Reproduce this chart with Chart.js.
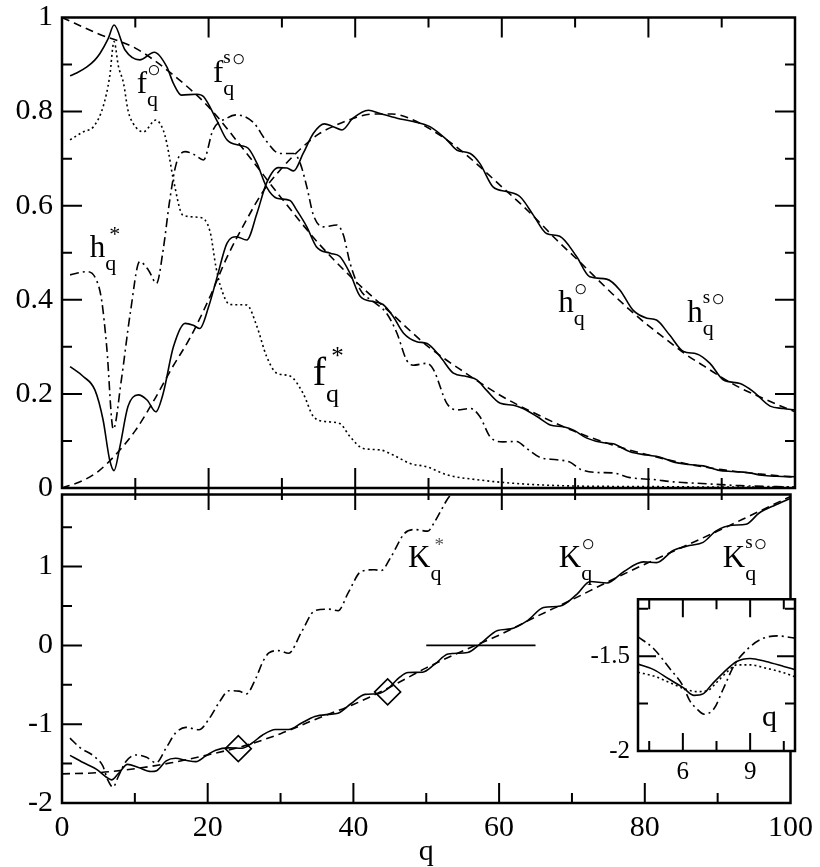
<!DOCTYPE html>
<html>
<head>
<meta charset="utf-8">
<script src="https://cdn.jsdelivr.net/npm/chart.js@4.4.1/dist/chart.umd.min.js"></script>
<style>
  body { margin: 0; background: #fff; }
  #wrap { position: relative; width: 820px; height: 867px; }
  #wrap canvas { position: absolute; }
</style>
</head>
<body>
<div id="wrap">
  <canvas id="topPanel" width="820" height="510" style="left:0;top:0"></canvas>
  <canvas id="bottomPanel" width="820" height="389" style="left:0;top:478px"></canvas>
  <canvas id="insetPanel" width="215" height="200" style="left:585px;top:585px"></canvas>
</div>
<script>
// tick labels
const qTicks = [0, 20, 40, 60, 80, 100];
const topTicks = [0, 0.2, 0.4, 0.6, 0.8, 1];
const bottomTicks = [-2, -1, 0, 1];
const insetQTicks = [6, 9];
const insetKTicks = [-2, -1.5];

// upper panel: f and h functions, [q, value]
const fCircle = [[1.1,0.876],[2,0.882],[3.4,0.895],[4.5,0.91],[5.2,0.924],[6.3,0.955],[7.1,0.984],[8.6,0.931],[10.6,0.910],
  [12.6,0.926],[14.3,0.895],[15.2,0.860],[16.3,0.835],[18.4,0.837],[19.3,0.832],[21.1,0.782],[22.5,0.74],[24.3,0.728],
  [25.4,0.722],[26.6,0.69],[27.9,0.64],[29.3,0.616],[31.1,0.611],[32.0,0.591],[33.4,0.555],[34.7,0.513],[36.6,0.499],
  [37.9,0.492],[39.3,0.456],[40.7,0.407],[42.5,0.396],[43.8,0.390],[45.2,0.364],[46.6,0.329],[48.4,0.311],[49.8,0.307],
  [51.6,0.279],[53.4,0.244],[55.2,0.237],[56.6,0.230],[57.9,0.208],[59.8,0.180],[61.6,0.176],[62.9,0.169],[64.8,0.152],
  [66.6,0.134],[68.4,0.130],[69.8,0.123],[71.6,0.106],[73.9,0.096],[75.2,0.094],[77.5,0.077],[79.8,0.070],[81.5,0.066],
  [83.5,0.055],[85.5,0.050],[87.5,0.047],[89.5,0.038],[91.5,0.035],[93.5,0.033],[95.5,0.027],[97.5,0.025],[100,0.024]];
const fSo = [[0,1.0],[5,0.965],[10,0.935],[15,0.88],[20,0.81],[25,0.715],[30,0.615],[35,0.52],[40,0.44],[45,0.37],
  [50,0.30],[55,0.245],[60,0.195],[65,0.155],[70,0.12],[75,0.092],[80,0.07],[85,0.052],[90,0.039],[95,0.03],[100,0.023]];
const fStar = [[1.1,0.74],[2.9,0.757],[4.3,0.768],[5.6,0.81],[6.5,0.874],[7.1,0.949],[7.7,0.896],[8.4,0.86],[9.0,0.803],
  [9.7,0.775],[11.1,0.757],[12.8,0.782],[13.8,0.761],[14.3,0.733],[15.2,0.655],[16.5,0.58],[18.8,0.575],[20.2,0.545],
  [21.0,0.47],[21.6,0.43],[22.9,0.39],[25.2,0.389],[26.6,0.343],[27.9,0.28],[29.3,0.244],[31.1,0.238],[32.9,0.201],
  [34.3,0.152],[36.1,0.141],[37.9,0.137],[39.3,0.109],[41.1,0.084],[43.4,0.081],[45.2,0.07],[47.5,0.052],[49.8,0.045],
  [52.5,0.028],[57,0.017],[61.6,0.010],[66.1,0.006],[70.7,0.004],[80,0.003],[90,0.002],[100,0.002]];
const hStar = [[1.1,0.453],[3.4,0.46],[4.7,0.442],[5.4,0.40],[6.1,0.30],[7.0,0.125],[8.1,0.23],[9.3,0.37],[10.6,0.481],
  [11.8,0.463],[12.9,0.435],[13.8,0.506],[14.7,0.612],[15.6,0.69],[16.8,0.715],[18.1,0.708],[19.3,0.697],[20.6,0.761],
  [22.5,0.786],[23.8,0.793],[26.1,0.777],[27.9,0.737],[29.7,0.711],[31.6,0.711],[32.5,0.69],[33.4,0.64],[34.3,0.58],
  [35.6,0.555],[37.5,0.559],[38.4,0.537],[39.3,0.478],[40.7,0.421],[42.5,0.396],[44.3,0.371],[45.7,0.329],[47.0,0.272],
  [47.9,0.261],[49.8,0.265],[50.7,0.251],[52.5,0.18],[53.9,0.166],[55.7,0.169],[57.0,0.152],[58.4,0.109],[60.2,0.098],
  [62.0,0.099],[63.4,0.084],[65.2,0.065],[67.5,0.06],[69.3,0.055],[70.7,0.04],[72.9,0.033],[75.2,0.032],[77.5,0.022],
  [80.7,0.018],[83.4,0.013],[87.9,0.009],[92.5,0.005],[100,0.002]];
const hCircle = [[1.1,0.258],[2.9,0.237],[4.5,0.208],[5.6,0.145],[6.5,0.06],[7.1,0.037],[7.9,0.088],[9.0,0.173],[10.4,0.198],
  [11.6,0.187],[12.8,0.162],[13.8,0.201],[15.2,0.30],[16.8,0.35],[17.9,0.346],[18.8,0.339],[20.0,0.385],[21.1,0.445],
  [22.5,0.52],[23.8,0.534],[25.2,0.527],[26.6,0.584],[27.9,0.648],[29.5,0.681],[30.7,0.68],[31.6,0.674],[32.9,0.711],
  [34.3,0.754],[35.8,0.774],[37.0,0.768],[38.2,0.761],[39.7,0.786],[41.8,0.803],[43.4,0.796],[45.7,0.786],[47.9,0.779],
  [50.2,0.768],[52.5,0.74],[53.9,0.718],[55.7,0.711],[57.0,0.69],[58.8,0.64],[60.7,0.63],[62.5,0.619],[64.3,0.58],
  [66.1,0.541],[67.9,0.535],[70.2,0.492],[72.0,0.449],[74.3,0.444],[76.1,0.421],[77.9,0.378],[79.8,0.361],[81.1,0.357],
  [82.9,0.325],[84.8,0.29],[86.6,0.285],[88.4,0.265],[90.2,0.23],[92.5,0.222],[94.3,0.205],[96.6,0.174],[98.4,0.169],[100,0.166]];
const hSo = [[0,0],[3,0.017],[5,0.036],[7.5,0.074],[10,0.122],[12.5,0.185],[15,0.255],[17.5,0.32],[20,0.40],[22.5,0.49],
  [25,0.565],[27.5,0.632],[30,0.68],[32.5,0.72],[35,0.752],[37.5,0.772],[40,0.787],[42.5,0.795],[45,0.795],[47.5,0.785],
  [50,0.765],[52.5,0.74],[55,0.71],[57.5,0.676],[60,0.64],[62.5,0.605],[65,0.567],[67.5,0.527],[70,0.49],[72.5,0.452],
  [75,0.414],[77.5,0.378],[80,0.345],[82.5,0.315],[85,0.285],[87.5,0.26],[90,0.235],[92.5,0.213],[95,0.195],[97.5,0.178],[100,0.162]];

// lower panel: K functions
const kStar = [[1.1,-1.176],[2.5,-1.30],[4.3,-1.40],[5.6,-1.53],[6.3,-1.71],[7.0,-1.80],[7.7,-1.67],[8.8,-1.47],[10.2,-1.39],
  [11.6,-1.42],[12.9,-1.49],[14.3,-1.30],[15.6,-1.11],[17.0,-1.04],[18.8,-1.07],[20.2,-0.93],[21.6,-0.72],[22.9,-0.575],
  [24.3,-0.58],[25.3,-0.615],[26.6,-0.42],[27.6,-0.20],[28.4,-0.096],[29.7,-0.066],[31.1,-0.10],[32.9,0.174],[34.7,0.44],
  [36.6,0.46],[37.9,0.44],[39.3,0.67],[41.1,0.94],[42.9,0.96],[43.8,0.95],[45.2,1.13],[47.0,1.42],[48.4,1.47],[50.2,1.45],
  [51.1,1.56],[52.9,1.855],[53.4,1.915]];
const kCircle = [[1.1,-1.395],[2.9,-1.487],[4.7,-1.57],[6.1,-1.673],[6.8,-1.706],[7.7,-1.631],[9.0,-1.51],[10.5,-1.55],
  [12.2,-1.60],[13.0,-1.59],[14.3,-1.466],[15.6,-1.433],[17.0,-1.458],[18.4,-1.475],[19.7,-1.404],[21.1,-1.33],[22.9,-1.30],
  [24.7,-1.305],[26.1,-1.238],[27.5,-1.14],[29.3,-1.068],[31.1,-1.068],[32.9,-0.985],[34.7,-0.903],[36.6,-0.875],
  [37.9,-0.861],[39.7,-0.737],[41.6,-0.621],[43.4,-0.613],[44.7,-0.551],[46.4,-0.40],[47.5,-0.344],[49.5,-0.34],
  [51.1,-0.245],[53.0,-0.11],[55.7,-0.09],[57.5,0.025],[59.8,0.19],[61.6,0.21],[63.9,0.315],[66.1,0.48],[68.4,0.50],
  [70.7,0.65],[72.5,0.811],[74.8,0.791],[77.1,0.935],[79.8,1.06],[81.6,1.05],[83.9,1.205],[86.1,1.267],[88.0,1.308],
  [89.8,1.453],[92.0,1.524],[93.9,1.537],[95.7,1.68],[98.0,1.785],[100,1.867]];
const kSo = [[0,-1.63],[5,-1.615],[10,-1.565],[15,-1.49],[20,-1.39],[25,-1.275],[30,-1.12],[35,-0.93],[40,-0.75],
  [45,-0.53],[50,-0.285],[55,-0.07],[60,0.13],[65,0.36],[70,0.58],[75,0.81],[80,1.03],[85,1.24],[90,1.45],[95,1.67],[100,1.89]];
const kMarks = [[24.2,-1.31],[44.7,-0.59]];
const kZero = [[50,0],[65,0]];

// inset, small q
const insetSolid = [[4,-1.542],[4.7,-1.571],[5.4,-1.622],[6.0,-1.665],[6.5,-1.707],[6.9,-1.699],[7.3,-1.648],[7.8,-1.588],
  [8.4,-1.528],[9.0,-1.512],[9.7,-1.528],[10.5,-1.554],[11,-1.571]];
const insetDotted = [[4,-1.585],[4.7,-1.605],[5.4,-1.639],[6.2,-1.677],[6.6,-1.687],[7.1,-1.682],[7.5,-1.639],[8.0,-1.58],
  [8.4,-1.546],[9.0,-1.546],[9.7,-1.563],[10.5,-1.588],[11,-1.609]];
const insetDashDot = [[4,-1.398],[4.7,-1.461],[5.4,-1.563],[6.0,-1.656],[6.3,-1.733],[6.6,-1.775],[6.95,-1.806],[7.4,-1.775],
  [7.8,-1.673],[8.3,-1.546],[8.9,-1.461],[9.5,-1.41],[10.2,-1.393],[11,-1.405]];

const serif = '"Liberation Serif", "Times New Roman", serif';
const SOLID = [], DASH = [8, 5], DOT = [2, 3], DASHDOT = [9, 4, 2, 4];

const pts = arr => arr.map(([x, y]) => ({ x, y }));
const steps = (from, to, d) => {
  const out = [];
  for (let v = from; v <= to + 1e-9; v += d) out.push(+v.toFixed(3));
  return out;
};

function curve(data, dash) {
  return {
    data: pts(data), borderColor: '#000', borderWidth: 1.6, borderDash: dash,
    pointRadius: 0, cubicInterpolationMode: 'monotone', fill: false
  };
}

// frame and inward tick marks
const tickPlugin = {
  id: 'frameTicks',
  afterDatasetsDraw(chart, args, o) {
    const { ctx, chartArea: a } = chart;
    const sx = chart.scales.x, sy = chart.scales.y;
    const len = (v, step) => Math.abs(v / step - Math.round(v / step)) < 1e-6 ? o.major : o.minor;
    ctx.save();
    ctx.strokeStyle = '#000';
    ctx.lineWidth = o.tickWidth;
    ctx.beginPath();
    for (const v of o.xAt) {
      const px = sx.getPixelForValue(v), l = len(v, o.xStep);
      if (o.xTop) { ctx.moveTo(px, a.top); ctx.lineTo(px, a.top + l); }
      if (o.xBottom) { ctx.moveTo(px, a.bottom); ctx.lineTo(px, a.bottom - l); }
      if (o.xAcross) { ctx.moveTo(px, a.bottom - l); ctx.lineTo(px, a.bottom + l + 2); }
    }
    for (const v of o.yAt) {
      const py = sy.getPixelForValue(v), l = len(v, o.yStep);
      if (o.yLeft) { ctx.moveTo(a.left, py); ctx.lineTo(a.left + l, py); }
      if (o.yRight) { ctx.moveTo(a.right, py); ctx.lineTo(a.right - l, py); }
    }
    ctx.stroke();
    ctx.lineWidth = o.frameWidth;
    ctx.strokeRect(a.left, a.top, a.right - a.left, a.bottom - a.top);
    ctx.restore();
  }
};

// curve names such as f with a sub q and a superscript
const notePlugin = {
  id: 'notes',
  afterDatasetsDraw(chart, args, o) {
    const { ctx } = chart;
    const sx = chart.scales.x, sy = chart.scales.y;
    ctx.save();
    ctx.fillStyle = '#000';
    ctx.textBaseline = 'alphabetic';
    for (const n of o.items) {
      const x = sx.getPixelForValue(n.q), y = sy.getPixelForValue(n.v);
      const size = n.size || 31;
      const k = size / 31;
      ctx.font = `${size}px ${serif}`;
      ctx.fillText(n.base, x, y);
      if (!n.sup) continue;
      const w = ctx.measureText(n.base).width;
      ctx.font = `${n.subSize || 22}px ${serif}`;
      ctx.fillText('q', x + w, y + 13 * k);
      let sxp = x + w;
      if (n.sup === '*') {
        ctx.font = `${n.starSize || 22}px ${serif}`;
        ctx.fillStyle = n.starColor || '#000';
        ctx.fillText('*', sxp + 4 * k, y - 16 * k);
        ctx.fillStyle = '#000';
        continue;
      }
      if (n.sup.startsWith('s')) {
        ctx.font = `19px ${serif}`;
        ctx.fillText('s', sxp, y - 19);
        sxp += ctx.measureText('s').width + 1;
      }
      ctx.font = `23px ${serif}`;
      ctx.fillText('○', sxp, y - 16);
    }
    ctx.restore();
  }
};

const whiteArea = {
  id: 'whiteArea',
  beforeDraw(chart) {
    const { ctx, chartArea: a } = chart;
    ctx.save();
    ctx.fillStyle = '#fff';
    ctx.fillRect(a.left, a.top, a.right - a.left, a.bottom - a.top);
    ctx.restore();
  }
};

// lineHeight kept small so the end labels do not push the plot area around
function yAxis(min, max, labels, width, size, pad) {
  return {
    min, max,
    afterFit: s => { s.width = width; },
    afterBuildTicks: s => { s.ticks = labels.map(value => ({ value })); },
    grid: { display: false, drawTicks: false },
    border: { display: false },
    ticks: { color: '#000', font: { family: serif, size, lineHeight: 0.5 }, padding: pad, callback: v => String(v) }
  };
}

function xAxis(min, max, labels, height, size, pad) {
  return {
    type: 'linear', min, max,
    afterFit: s => { s.height = height; },
    afterBuildTicks: s => { s.ticks = labels.map(value => ({ value })); },
    grid: { display: false, drawTicks: false },
    border: { display: false },
    ticks: { color: '#000', font: { family: serif, size }, padding: pad, maxRotation: 0, callback: v => String(v) }
  };
}

const base = {
  responsive: false, animation: false, events: []
};

new Chart(document.getElementById('topPanel'), {
  type: 'line',
  data: {
    datasets: [
      curve(fCircle, SOLID), curve(fSo, DASH), curve(fStar, DOT),
      curve(hStar, DASHDOT), curve(hCircle, SOLID), curve(hSo, DASH)
    ]
  },
  options: {
    ...base,
    layout: { padding: { top: 17.5, right: 25, bottom: 22, left: 0 } },
    plugins: {
      legend: { display: false }, tooltip: { enabled: false },
      frameTicks: {
        frameWidth: 2.5, tickWidth: 2, major: 20, minor: 10,
        xAt: steps(10, 90, 10), xStep: 20, xTop: true, xAcross: true,
        yAt: steps(0.1, 0.9, 0.1), yStep: 0.2, yLeft: true, yRight: true
      },
      notes: {
        items: [
          { q: 10.2, v: 0.84, base: 'f', sup: '○' },
          { q: 20.6, v: 0.863, base: 'f', sup: 's○' },
          { q: 3.8, v: 0.491, base: 'h', sup: '*' },
          { q: 34.2, v: 0.219, base: 'f', sup: '*', size: 40, subSize: 26, starSize: 25 },
          { q: 67.7, v: 0.374, base: 'h', sup: '○' },
          { q: 85.3, v: 0.353, base: 'h', sup: 's○' }
        ]
      }
    },
    scales: {
      x: { type: 'linear', min: 0, max: 100, display: false },
      y: yAxis(0, 1, topTicks, 62, 30, 9)
    }
  },
  plugins: [tickPlugin, notePlugin]
});

const diamondSet = {
  data: pts(kMarks), showLine: false, pointStyle: 'rectRot', pointRadius: 13,
  pointBorderWidth: 1.6, pointBorderColor: '#000', pointBackgroundColor: 'rgba(0,0,0,0)'
};

new Chart(document.getElementById('bottomPanel'), {
  type: 'line',
  data: {
    datasets: [
      curve(kStar, DASHDOT), curve(kCircle, SOLID), curve(kSo, DASH),
      { ...curve(kZero, SOLID), cubicInterpolationMode: 'default' },
      diamondSet
    ]
  },
  options: {
    ...base,
    layout: { padding: { top: 10, right: 25, bottom: 0, left: 0 } },
    plugins: {
      legend: { display: false }, tooltip: { enabled: false },
      frameTicks: {
        frameWidth: 2.5, tickWidth: 2, major: 20, minor: 10,
        xAt: steps(10, 90, 10), xStep: 20, xBottom: true,
        yAt: steps(-1.5, 1.5, 0.5), yStep: 1, yLeft: true
      },
      notes: {
        items: [
          { q: 47.5, v: 0.994, base: 'K', sup: '*', starSize: 19, starColor: '#555' },
          { q: 68.2, v: 0.994, base: 'K', sup: '○' },
          { q: 90.7, v: 0.994, base: 'K', sup: 's○' }
        ]
      }
    },
    scales: {
      x: {
        ...xAxis(0, 100, qTicks, 64, 30, 7),
        title: { display: true, text: 'q', color: '#000', font: { family: serif, size: 30 }, padding: { top: 0, bottom: -3 } }
      },
      y: yAxis(-2, 1.915, bottomTicks, 62, 30, 9)
    }
  },
  plugins: [tickPlugin, notePlugin]
});

new Chart(document.getElementById('insetPanel'), {
  type: 'line',
  data: {
    datasets: [curve(insetSolid, SOLID), curve(insetDotted, DOT), curve(insetDashDot, DASHDOT)]
  },
  options: {
    ...base,
    layout: { padding: { top: 9, right: 5, bottom: 0, left: 0 } },
    plugins: {
      legend: { display: false }, tooltip: { enabled: false },
      frameTicks: {
        frameWidth: 2.5, tickWidth: 2, major: 18, minor: 10,
        xAt: [4.5, 6, 7.5, 9, 10.5], xStep: 3, xTop: true, xBottom: true,
        yAt: [-1.75, -1.5, -1.25], yStep: 0.5, yLeft: true, yRight: true
      },
      notes: { items: [{ q: 9.53, v: -1.869, base: 'q', size: 30 }] }
    },
    scales: {
      x: xAxis(4, 11, insetQTicks, 34, 25, 6),
      y: yAxis(-2, -1.2, insetKTicks, 53, 25, 8)
    }
  },
  plugins: [whiteArea, tickPlugin, notePlugin]
});
</script>
</body>
</html>
